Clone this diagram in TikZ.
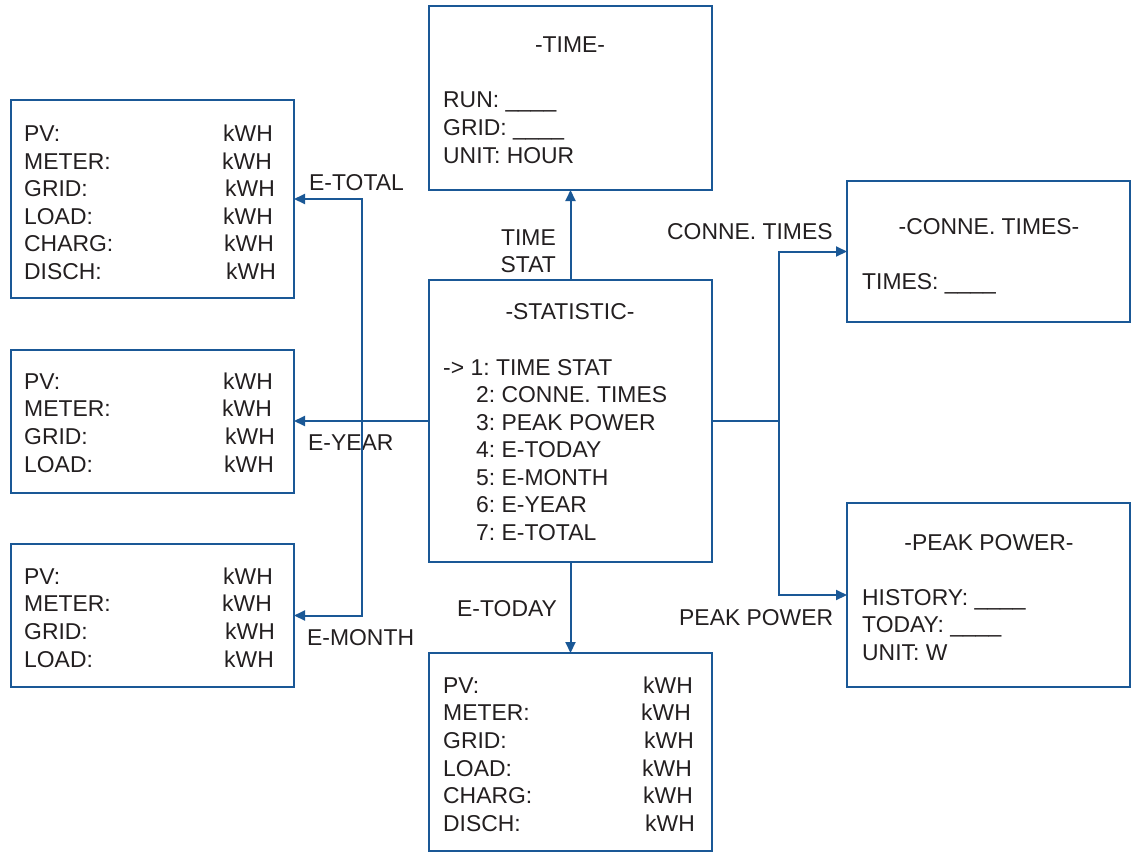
\documentclass[tikz,border=0pt]{standalone}
\usepackage{fontspec}
\setmainfont{Liberation Sans}
\usetikzlibrary{arrows.meta}
\definecolor{lineblue}{HTML}{1A5896}
\definecolor{txtgray}{HTML}{231F20}
\frenchspacing
\begin{document}
\frenchspacing
\begin{tikzpicture}[x=1pt,y=-1pt,
  box/.style={draw=lineblue,line width=2pt,rectangle,inner sep=0pt,outer sep=0pt},
  txt/.style={anchor=base west,inner sep=0pt,text=txtgray,font=\fontsize{22.9}{27}\selectfont\frenchspacing},
  ctxt/.style={anchor=base,inner sep=0pt,text=txtgray,font=\fontsize{22.9}{27}\selectfont\frenchspacing},
  rtxt/.style={anchor=base east,inner sep=0pt,text=txtgray,font=\fontsize{22.9}{27}\selectfont\frenchspacing},
  conn/.style={draw=lineblue,line width=2pt},
  arr/.style={conn,-{Triangle[length=11pt,width=10pt]}}]
\useasboundingbox (0,0) rectangle (1132,852);
% boxes
\node[box,minimum width=283pt,minimum height=184pt] (time) at (570.5,98) {};
\node[box,minimum width=283pt,minimum height=282pt] (stat) at (570.5,421) {};
\node[box,minimum width=283pt,minimum height=198pt] (bottom) at (570.5,752) {};
\node[box,minimum width=283pt,minimum height=198pt] (left1) at (152.5,199) {};
\node[box,minimum width=283pt,minimum height=143pt] (left2) at (152.5,421) {};
\node[box,minimum width=283pt,minimum height=143pt] (left3) at (152.5,615.5) {};
\node[box,minimum width=283pt,minimum height=141pt] (conne) at (988.5,251.5) {};
\node[box,minimum width=283pt,minimum height=184pt] (peak) at (988.5,595) {};
% TIME box text
\node[ctxt] (timetitle) at (570,52) {-TIME-};
\node[txt] (run) at (443,107) {RUN: \_\_\_\_};
\node[txt] (grid) at (443,135) {GRID: \_\_\_\_};
\node[txt] (unith) at (443,163) {UNIT: HOUR};
% STATISTIC box text
\node[ctxt] (stattitle) at (570,319) {-STATISTIC-};
\node[txt] (s1) at (443,375) {-> 1: TIME STAT};
\node[txt] (s2) at (476,402.5) {2: CONNE. TIMES};
\node[txt] (s3) at (476,430) {3: PEAK POWER};
\node[txt] (s4) at (476,457.5) {4: E-TODAY};
\node[txt] (s5) at (476,485) {5: E-MONTH};
\node[txt] (s6) at (476,512.5) {6: E-YEAR};
\node[txt] (s7) at (476,540) {7: E-TOTAL};
% CONNE box
\node[ctxt] (connetitle) at (989,234) {-CONNE. TIMES-};
\node[txt] (times) at (862,289) {TIMES: \_\_\_\_};
% PEAK box
\node[ctxt] (peaktitle) at (989,550) {-PEAK POWER-};
\node[txt] (hist) at (862,605) {HISTORY: \_\_\_\_};
\node[txt] (today) at (862,632.5) {TODAY: \_\_\_\_};
\node[txt] (unitw) at (862,660) {UNIT: W};
% left1
\node[txt] (a1) at (24,141) {PV:};      \node[txt] (a1k) at (223,141) {kWH};
\node[txt] (a2) at (24,169) {METER:};   \node[txt] (a2k) at (222,169) {kWH};
\node[txt] (a3) at (24,196) {GRID:};    \node[txt] (a3k) at (225,196) {kWH};
\node[txt] (a4) at (24,224) {LOAD:};    \node[txt] (a4k) at (223,224) {kWH};
\node[txt] (a5) at (24,251) {CHARG:};   \node[txt] (a5k) at (224,251) {kWH};
\node[txt] (a6) at (24,279) {DISCH:};   \node[txt] (a6k) at (226,279) {kWH};
% left2
\node[txt] (b1) at (24,389) {PV:};      \node[txt] (b1k) at (223,389) {kWH};
\node[txt] (b2) at (24,416) {METER:};   \node[txt] (b2k) at (222,416) {kWH};
\node[txt] (b3) at (24,444) {GRID:};    \node[txt] (b3k) at (225,444) {kWH};
\node[txt] (b4) at (24,472) {LOAD:};    \node[txt] (b4k) at (224,472) {kWH};
% left3
\node[txt] (c1) at (24,584) {PV:};      \node[txt] (c1k) at (223,584) {kWH};
\node[txt] (c2) at (24,611) {METER:};   \node[txt] (c2k) at (222,611) {kWH};
\node[txt] (c3) at (24,639) {GRID:};    \node[txt] (c3k) at (225,639) {kWH};
\node[txt] (c4) at (24,667) {LOAD:};    \node[txt] (c4k) at (224,667) {kWH};
% bottom
\node[txt] (d1) at (443,693) {PV:};     \node[txt] (d1k) at (643,693) {kWH};
\node[txt] (d2) at (443,720) {METER:};  \node[txt] (d2k) at (641,720) {kWH};
\node[txt] (d3) at (443,748) {GRID:};   \node[txt] (d3k) at (644,748) {kWH};
\node[txt] (d4) at (443,776) {LOAD:};   \node[txt] (d4k) at (642,776) {kWH};
\node[txt] (d5) at (443,803) {CHARG:};  \node[txt] (d5k) at (643,803) {kWH};
\node[txt] (d6) at (443,831) {DISCH:};  \node[txt] (d6k) at (645,831) {kWH};
% connector labels
\node[rtxt] (ltime) at (556,245) {TIME};
\node[rtxt] (lstat) at (556,272) {STAT};
\node[txt] (letotal) at (309,190) {E-TOTAL};
\node[txt] (leyear) at (308,450) {E-YEAR};
\node[txt] (lemonth) at (307,645) {E-MONTH};
\node[txt] (letoday) at (457,616) {E-TODAY};
\node[txt] (lconne) at (667,239) {CONNE. TIMES};
\node[txt] (lpeak) at (679,625) {PEAK POWER};
% connectors
\coordinate (jl) at (362,421);
\coordinate (jr) at (779,421);
\draw[arr] (stat.north) -- (time.south);
\draw[arr] (stat.south) -- (bottom.north);
\draw[arr] (stat.west) -- (left2.east);
\draw[arr] (jl) |- (left1.east);
\draw[arr] (jl) |- (left3.east);
\draw[conn] (stat.east) -- (jr);
\draw[arr] (jr) |- (conne.west);
\draw[arr] (jr) |- (peak.west);
\end{tikzpicture}
\end{document}
